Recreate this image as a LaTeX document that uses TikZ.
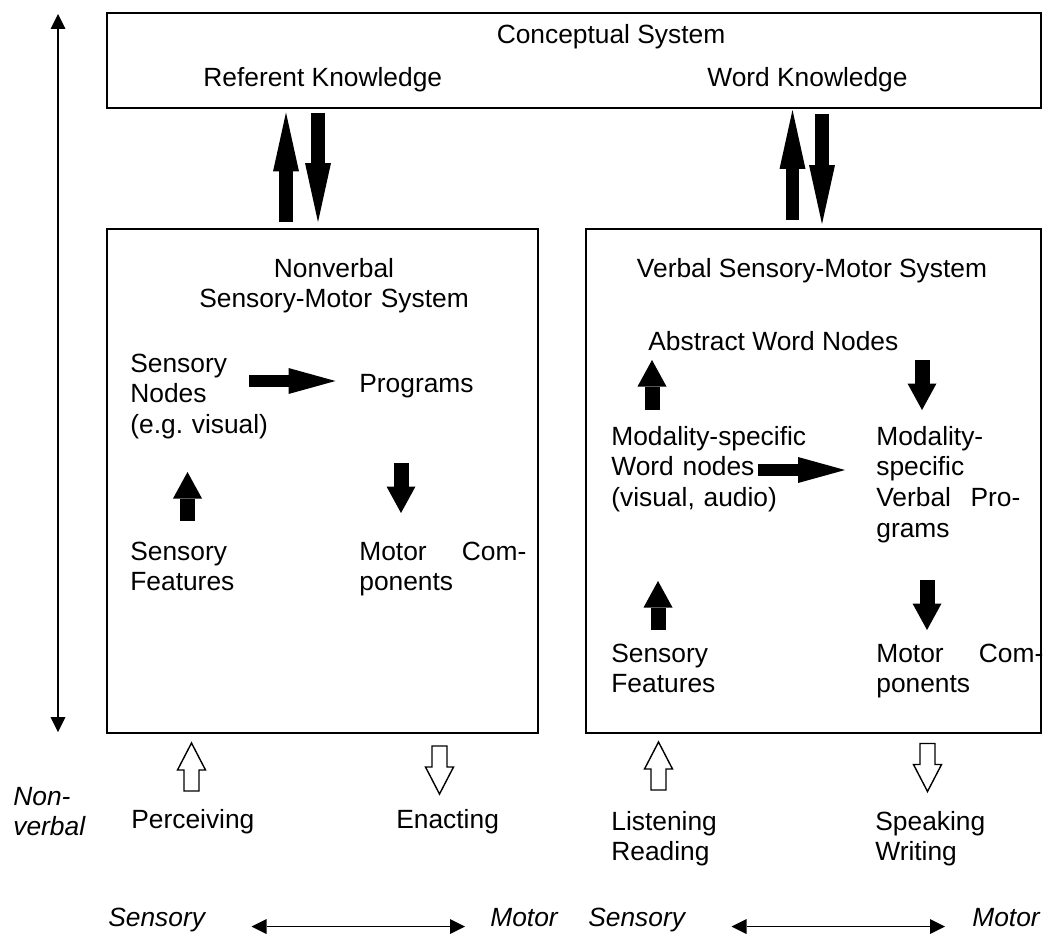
\documentclass[tikz,border=0pt]{standalone}
\usepackage{fontspec}
\setmainfont{Liberation Sans}
\usetikzlibrary{arrows.meta}
\begin{document}
\fontsize{15}{17.6}\selectfont
\begin{tikzpicture}[x=0.02cm,y=-0.02cm]
        % Styles
        \tikzstyle{box}=[draw,line width=0.9pt,inner sep=0pt]
        \tikzstyle{txt}=[inner sep=0pt,anchor=base west]
        \tikzstyle{multi}=[txt,text width=4.2cm,align=left]
        \tikzstyle{slant}=[multi,font=\itshape]
        \tikzstyle{axis}=[line width=0.8pt,{Triangle[width=0.3cm,length=0.3cm,line width=0pt]}-{Triangle[width=0.3cm,length=0.3cm,line width=0pt]}]
        \tikzstyle{big arrow}=[line width=0.27cm,-{Triangle[width=0.52cm,length=1.18cm,line width=0pt]}]
        \tikzstyle{small arrow}=[line width=0.3cm,-{Triangle[width=0.58cm,length=0.53cm,line width=0pt]}]
        \tikzstyle{side arrow}=[line width=0.24cm,-{Triangle[width=0.52cm,length=0.94cm,line width=0pt]}]
        \tikzset{pics/hollow arrow/.style={code={
            \draw[line width=0.8pt] (0,-7.5) -- (21,-7.5) -- (21,-14) -- (48,0) -- (21,14) -- (21,7.5) -- (0,7.5) -- cycle;}}}
        \useasboundingbox (0,0) rectangle (1043,933);
        %The graphic
        %boxes
        \node[box,minimum width=18.68cm,minimum height=1.9cm] (concept) at (574,60.5) {};
        \node[box,minimum width=8.62cm,minimum height=10.08cm] (nonverbal) at (322.5,481) {};
        \node[box,minimum width=9.1cm,minimum height=10.08cm] (verbal) at (813.5,481) {};
        %conceptual system
        \node[txt,anchor=base] (cs) at (611,43) {Conceptual System};
        \node[txt] (refk) at (203,86) {Referent Knowledge};
        \node[txt] (wordk) at (707,86) {Word Knowledge};
        %nonverbal system
        \node[multi,anchor=base,align=center,text width=6cm] (nvtitle) at (334,277) {Nonverbal\\Sensory-Motor System};
        \node[multi] (snodes) at (130,372) {Sensory\\Nodes\\(e.g.\ visual)};
        \node[txt] (progs) at (359,392) {Programs};
        \node[multi] (sfeat) at (130,560) {Sensory\\Features};
        \node[multi] (mcomp) at (359,560) {\makebox[3.34cm][l]{Motor\hfill Com-}\\ponents};
        %verbal system
        \node[txt,anchor=base] (vtitle) at (812,277) {Verbal Sensory-Motor System};
        \node[txt] (abstract) at (648,350) {Abstract Word Nodes};
        \node[multi] (modword) at (611,445) {Modality-specific\\Word nodes\\(visual, audio)};
        \node[multi] (modprog) at (876,445) {Modality-\\specific\\\makebox[2.88cm][l]{Verbal\hfill Pro-}\\grams};
        \node[multi] (vsfeat) at (611,662) {Sensory\\Features};
        \node[multi] (vmcomp) at (876,662) {\makebox[3.34cm][l]{Motor\hfill Com-}\\ponents};
        %outside
        \node[slant] (nonverb) at (13,805) {Non-\\verbal};
        \node[txt] (perc) at (131,828) {Perceiving};
        \node[txt] (enact) at (396,828) {Enacting};
        \node[multi] (listen) at (611,830) {Listening\\Reading};
        \node[multi] (speak) at (875,830) {Speaking\\Writing};
        \node[slant] (sens1) at (108,926) {Sensory};
        \node[slant] (mot1) at (490,926) {Motor};
        \node[slant] (sens2) at (588,926) {Sensory};
        \node[slant] (mot2) at (972,926) {Motor};
        %arrow ends
        \coordinate (ru0) at (286,222);   \coordinate (ru1) at (286,112.5);
        \coordinate (rd0) at (318,112.5); \coordinate (rd1) at (318,222);
        \coordinate (wu0) at (792.5,220); \coordinate (wu1) at (792.5,110);
        \coordinate (wd0) at (822,114);   \coordinate (wd1) at (822,224);
        \coordinate (nu0) at (187.5,521); \coordinate (nu1) at (187.5,472);
        \coordinate (nd0) at (401,463);   \coordinate (nd1) at (401,513);
        \coordinate (au0) at (652,410);   \coordinate (au1) at (652,360);
        \coordinate (ad0) at (922,360);   \coordinate (ad1) at (922,410);
        \coordinate (fu0) at (658,630);   \coordinate (fu1) at (658,581);
        \coordinate (fd0) at (927,580);   \coordinate (fd1) at (927,630);
        \coordinate (ns0) at (249,381);   \coordinate (ns1) at (335.5,381);
        \coordinate (vs0) at (758,470);   \coordinate (vs1) at (845,470);
        %arrows
        \foreach \n in {ru,rd,wu,wd}
            \draw[big arrow] (\n0) -- (\n1);
        \foreach \n in {nu,nd,au,ad,fu,fd}
            \draw[small arrow] (\n0) -- (\n1);
        \foreach \n in {ns,vs}
            \draw[side arrow] (\n0) -- (\n1);
        \coordinate (up end) at (58,14);
        \coordinate (down end) at (58,732);
        \draw[axis] (up end) -- (down end);
        \coordinate (sm0) at (251.5,926.5); \coordinate (sm1) at (465,926.5);
        \coordinate (sm2) at (731.5,926.5); \coordinate (sm3) at (945,926.5);
        \draw[axis] (sm0) -- (sm1);
        \draw[axis] (sm2) -- (sm3);
        %in and out
        \pic[rotate=90] at (191.5,791) {hollow arrow};
        \pic[rotate=-90] at (439.5,746) {hollow arrow};
        \pic[rotate=90] at (658.5,790) {hollow arrow};
        \pic[rotate=-90] at (927.5,743.5) {hollow arrow};
\end{tikzpicture}
\end{document}
